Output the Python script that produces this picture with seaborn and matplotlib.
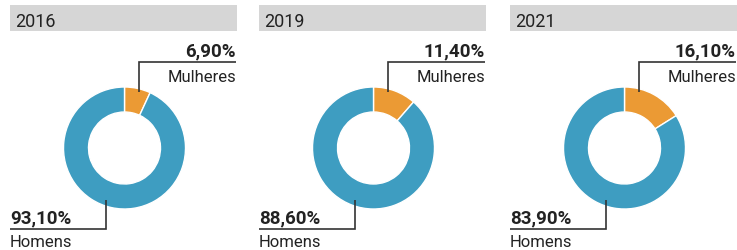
import numpy as np
import seaborn as sns
import matplotlib.pyplot as plt
from matplotlib.patches import Rectangle

years = ["2016", "2019", "2021"]
mulheres = [6.9, 11.4, 16.1]
homens = [93.1, 88.6, 83.9]
labels = ["Mulheres", "Homens"]

sns.set_theme(style="white")
plt.rcParams["font.family"] = ["Roboto", "DejaVu Sans"]

blue = "#3e9dc1"
orange = "#eb9a34"
gray = "#d6d6d6"
ink = "#222222"

W, H = 737, 250
fig = plt.figure(figsize=(W / 100, H / 100), dpi=100)
ax = fig.add_axes([0, 0, 1, 1])

def y(px):
    # pixel rows from top -> data y
    return H - px

offsets = [0, 249, 500]
r = 61
for i, yr in enumerate(years):
    ox = offsets[i]
    cx, cy = ox + 124.5, 148

    # header bar
    ax.add_patch(Rectangle((ox + 10, y(31)), 227, 26, color=gray, lw=0))
    ax.text(ox + 15, y(27), yr, fontsize=13, color=ink, va="baseline", ha="left")

    ax.pie([mulheres[i], homens[i]], colors=[orange, blue], startangle=90,
           counterclock=False, radius=r, center=(cx, y(cy)), frame=True,
           wedgeprops=dict(width=25, edgecolor="white", linewidth=1))

    right = min(ox + 236, W)
    # Mulheres leader
    lx = cx + 15
    top_edge = cy - np.sqrt(r ** 2 - 15 ** 2) + 3
    ax.plot([lx, lx, right], [y(top_edge), y(62), y(62)], color="#333333", lw=1.2,
            solid_capstyle="butt", solid_joinstyle="miter")
    pct = f"{mulheres[i]:.2f}".replace(".", ",") + "%"
    ax.text(right, y(56), pct, fontsize=13.5, fontweight="bold", color=ink,
            ha="right", va="baseline")
    ax.text(right, y(82), labels[0], fontsize=12, color=ink, ha="right", va="baseline")

    # Homens leader
    hx = cx - 18
    bot_edge = cy + np.sqrt(r ** 2 - 18 ** 2) - 6
    ax.plot([hx, hx, ox + 10], [y(bot_edge), y(229), y(229)], color="#333333", lw=1.2,
            solid_capstyle="butt", solid_joinstyle="miter")
    pct = f"{homens[i]:.2f}".replace(".", ",") + "%"
    ax.text(ox + 10, y(223), pct, fontsize=13.5, fontweight="bold", color=ink,
            ha="left", va="baseline")
    ax.text(ox + 10, y(247), labels[1], fontsize=12, color=ink, ha="left", va="baseline")

ax.set_xlim(0, W)
ax.set_ylim(0, H)
ax.set_aspect("auto")
ax.axis("off")

fig.savefig("out.png", dpi=100)
